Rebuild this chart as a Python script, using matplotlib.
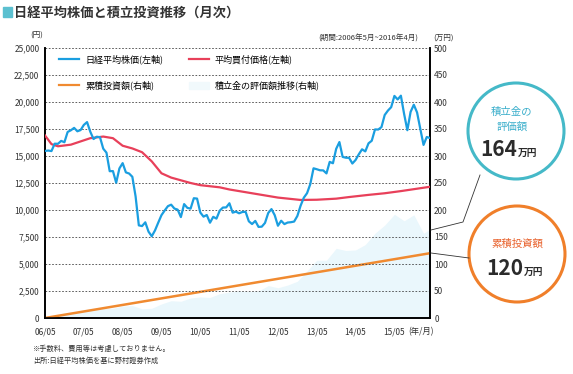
import numpy as np
import matplotlib.pyplot as plt
from matplotlib.lines import Line2D
from matplotlib.patches import Patch, Circle, Rectangle

plt.rcParams['font.family'] = ['Noto Sans CJK JP', 'DejaVu Sans']

# 日経平均株価 月末値 2006/05 - 2016/04
nikkei = [15467, 15505, 15457, 16140, 16128, 16399, 16274, 17226,
          17383, 17604, 17288, 17400, 17876, 18138, 17248, 16569, 16786, 16737, 15680, 15308,
          13592, 13603, 12526, 13850, 14339, 13481, 13377, 13073, 11260, 8577, 8512, 8860,
          7994, 7568, 8110, 8828, 9523, 9958, 10357, 10493, 10133, 10035, 9345, 10546,
          10198, 10126, 11090, 11057, 9769, 9383, 9537, 8824, 9369, 9202, 9937, 10229,
          10238, 10624, 9755, 9850, 9694, 9816, 9833, 8955, 8700, 8988, 8435, 8455,
          8803, 9723, 10084, 9521, 8543, 9007, 8695, 8840, 8870, 8928, 9446, 10395,
          11139, 11559, 12398, 13861, 13775, 13677, 13668, 13389, 14456, 14328, 15662, 16291,
          14915, 14841, 14828, 14304, 14632, 15162, 15621, 15425, 16174, 16414, 17460, 17451,
          17674, 18798, 19207, 19520, 20563, 20236, 20585, 18890, 17388, 19083, 19747, 19034,
          17518, 16027, 16759, 16666]
months = list(range(len(nikkei)))

# 平均買付価格 (読み取り値)
avg_m = [0, 2, 4, 8, 12, 14, 18, 21, 24, 27, 30, 33, 36, 39, 42, 45, 48, 54, 57, 60,
         66, 72, 79, 84, 90, 94, 100, 105, 110, 119]
avg_price = [16900, 16100, 15900, 16050, 16450, 16650, 16800, 16650, 15950, 15700,
             15350, 14500, 13400, 13000, 12750, 12500, 12300, 12100, 11900, 11750,
             11450, 11150, 10930, 10950, 11050, 11200, 11400, 11550, 11750, 12150]

# 累積投資額 (万円)
inv_m = [0, 119]
invest = [0, 120]

# 積立金の評価額 (万円, 読み取り値)
val_m = [0, 3, 6, 9, 12, 15, 18, 21, 24, 27, 30, 33, 36, 39, 42, 45, 48, 51, 54, 57,
         60, 63, 66, 69, 72, 75, 78, 81, 84, 87, 90, 93, 96, 99, 102, 105, 108, 111,
         114, 117, 119]
valuation = [1, 4, 7, 11, 14, 16, 18, 18, 22, 23, 17, 18, 26, 32, 31, 37, 39, 38, 45, 48,
             50, 49, 50, 60, 56, 61, 68, 87, 107, 107, 129, 125, 126, 136, 157, 172, 192, 180,
             191, 157, 164]

xlabels = ['06/05', '07/05', '08/05', '09/05', '10/05', '11/05', '12/05', '13/05', '14/05', '15/05']

blue = '#1a9ee0'
red = '#e8405a'
orange = '#f08a30'
fillc = '#eaf7fc'

fig = plt.figure(figsize=(5.73, 3.74), dpi=100)
ax = fig.add_axes([45/573, 1-318/374, 385/573, 270/374])
ax2 = ax.twinx()

ax2.fill_between(val_m, valuation, 0, color=fillc, lw=0, zorder=1)
ax2.plot(inv_m, invest, color=orange, lw=1.8, zorder=3)
ax.plot(avg_m, avg_price, color=red, lw=1.6, zorder=3)
ax.plot(months, nikkei, color=blue, lw=1.6, zorder=4)

ax.set_zorder(2)
ax.patch.set_visible(False)

ax.set_xlim(0, 119)
ax.set_ylim(0, 25000)
ax2.set_ylim(0, 500)
ax.set_yticks(np.arange(0, 25001, 2500))
ax.set_yticklabels([f'{v:,}' for v in range(0, 25001, 2500)])
ax2.set_yticks(np.arange(0, 501, 50))
ax.set_xticks(range(0, 109, 12))
ax.set_xticklabels(xlabels)

for y in range(2500, 25001, 2500):
    ax.axhline(y, color='#444444', lw=0.6, ls=(0, (2, 2)), zorder=0)

for a in (ax, ax2):
    a.spines['top'].set_visible(False)
    for s in ('left', 'right', 'bottom'):
        a.spines[s].set_linewidth(1.2)
    a.tick_params(length=0, labelsize=6, colors='#333333')
ax.tick_params(axis='y', pad=4)
ax.tick_params(axis='x', pad=7)
ax2.tick_params(axis='y', pad=3)

handles = [Line2D([], [], color=blue, lw=1.6), Line2D([], [], color=orange, lw=1.6),
           Line2D([], [], color=red, lw=1.6), Patch(color='#f1f9fc')]
labels = ['日経平均株価(左軸)', '累積投資額(右軸)', '平均買付価格(左軸)', '積立金の評価額推移(右軸)']
ax.legend(handles, labels, ncol=2, loc='upper left', bbox_to_anchor=(0.037, 0.975),
          frameon=False, fontsize=6.5, handlelength=2.2, handletextpad=0.7,
          columnspacing=2.8, labelspacing=1.8, borderpad=0, borderaxespad=0)

# overlay in pixel coordinates
ov = fig.add_axes([0, 0, 1, 1], zorder=5)
ov.set_xlim(0, 573)
ov.set_ylim(374, 0)
ov.axis('off')
ov.patch.set_visible(False)

ov.add_patch(Rectangle((3, 7), 9, 10, color='#5bc0d0'))
ov.text(14, 12.5, '日経平均株価と積立投資推移（月次）', fontsize=9.5, fontweight='bold',
        color='#333333', va='center', ha='left')
ov.text(418, 39, '(期間:2006年5月~2016年4月)', fontsize=5.5, ha='right', va='center', color='#333333')
ov.text(443, 39, '(万円)', fontsize=5.5, ha='center', va='center', color='#333333')
ov.text(37, 36, '(円)', fontsize=5.5, ha='center', va='center', color='#333333')
ov.text(421, 332, '(年/月)', fontsize=6, ha='center', va='center', color='#333333')
ov.text(33, 349, '※手数料、費用等は考慮しておりません。', fontsize=5.2, ha='left', va='center', color='#333333')
ov.text(33, 361, '出所:日経平均株価を基に野村證券作成', fontsize=5.2, ha='left', va='center', color='#333333')

teal = '#45b9c8'
ov.add_patch(Circle((516, 131), 48, fill=False, ec=teal, lw=2.2))
ov.text(512, 112, '積立金の', fontsize=7.5, color='#3aaecb', ha='center', va='center')
ov.text(512, 127, '評価額', fontsize=7.5, color='#3aaecb', ha='center', va='center')
ov.text(517, 156, '164', fontsize=15, fontweight='bold', color='#2b2b2b', ha='right', va='baseline')
ov.text(518, 156, '万円', fontsize=7, fontweight='bold', color='#2b2b2b', ha='left', va='baseline')

oc = '#f07f2a'
ov.add_patch(Circle((517, 254), 48, fill=False, ec=oc, lw=2.2))
ov.text(517, 244, '累積投資額', fontsize=7.5, color='#e8602a', ha='center', va='center')
ov.text(523, 275, '120', fontsize=15, fontweight='bold', color='#2b2b2b', ha='right', va='baseline')
ov.text(524, 275, '万円', fontsize=7, fontweight='bold', color='#2b2b2b', ha='left', va='baseline')

ov.plot([431, 463, 480], [230, 222, 175], color='#333333', lw=0.6)
ov.plot([431, 469], [253, 258], color='#333333', lw=0.6)

fig.savefig('out.png', dpi=100)
